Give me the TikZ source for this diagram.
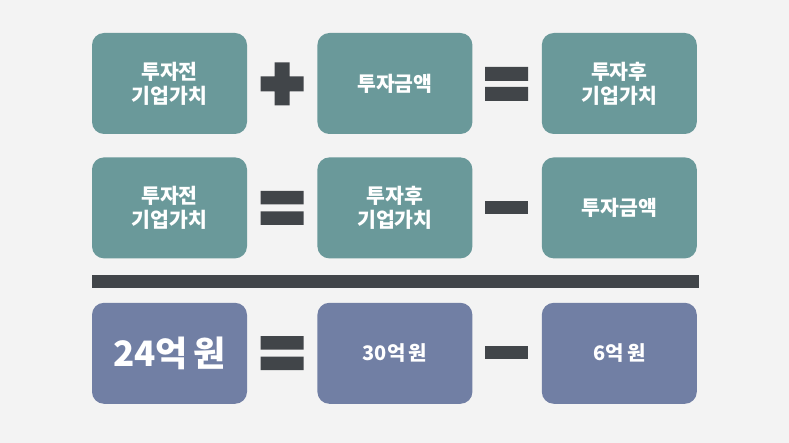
\documentclass[tikz,border=0pt]{standalone}
\usepackage{fontspec}
\setmainfont{Noto Sans CJK KR}
\usetikzlibrary{positioning}
\definecolor{bggray}{HTML}{F3F3F3}
\definecolor{tealfill}{HTML}{6A999A}
\definecolor{navyfill}{HTML}{717FA4}
\definecolor{symgray}{HTML}{414549}
\tikzset{
  valbox/.style={rounded corners=12pt, minimum width=155pt, minimum height=101pt,
    inner sep=0pt, text=white, align=center, font=\bfseries\fontsize{20.5}{24}\selectfont},
  tealbox/.style={valbox, fill=tealfill},
  navybox/.style={valbox, fill=navyfill},
}

\begin{document}
\begin{tikzpicture}[x=1pt, y=-1pt]

  \fill[bggray] (0,0) rectangle (789,443);

  \newcommand\SX{282};   % first symbol column
  \newcommand\TX{506.5}; % second symbol column

  % first row
  \node[tealbox] (pre1) at (169.5,83.5) {투자전\\기업가치};
  \node[tealbox, right=70pt of pre1] (inv1) {투자금액};
  \node[tealbox, right=69pt of inv1] (post1) {투자후\\기업가치};

  % second row
  \node[tealbox, below=23pt of pre1] (pre2) {투자전\\기업가치};
  \node[tealbox, right=70pt of pre2] (post2) {투자후\\기업가치};
  \node[tealbox, right=69pt of post2] (inv2) {투자금액};

  % numbers
  \node[navybox, below=44pt of pre2, font=\bfseries\fontsize{35}{38}\selectfont] (pre3) {24억\,원};
  \node[navybox, right=70pt of pre3, font=\bfseries\fontsize{20}{22}\selectfont] (post3) {30억\,원};
  \node[navybox, right=69pt of post3, font=\bfseries\fontsize{20}{22}\selectfont] (inv3) {6억\,원};

  \fill[symgray] (92,275) rectangle (699,288);

  \fill[symgray] (\SX,84) +(-21.5,-7.5) rectangle +(21.5,7.5) +(-7.5,-21.5) rectangle +(7.5,21.5); % plus
  \fill[symgray] (\TX,84) +(-21.5,-17) rectangle +(21.5,-3) +(-21.5,3) rectangle +(21.5,17); % equals
  \fill[symgray] (\SX,208) +(-21.5,-17) rectangle +(21.5,-3.5) +(-21.5,3.5) rectangle +(21.5,17); % equals
  \fill[symgray] (\TX,207.5) +(-21.5,-6.5) rectangle +(21.5,6.5); % minus
  \fill[symgray] (\SX,353) +(-21.5,-17) rectangle +(21.5,-3.5) +(-21.5,3.5) rectangle +(21.5,17); % equals
  \fill[symgray] (\TX,352.5) +(-21.5,-6.5) rectangle +(21.5,6.5); % minus

\end{tikzpicture}
\end{document}
